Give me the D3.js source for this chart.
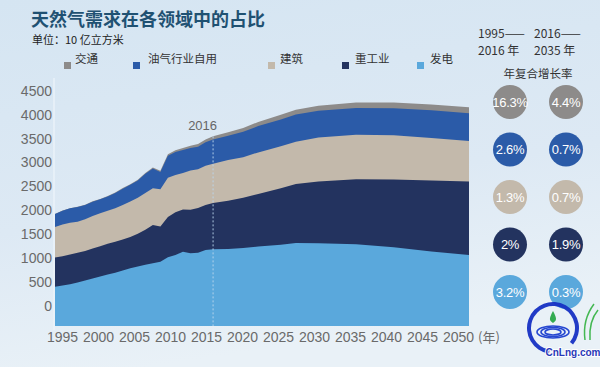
<!DOCTYPE html>
<html><head><meta charset="utf-8">
<script src="https://cdn.jsdelivr.net/npm/d3@7"></script>
<style>
html,body{margin:0;padding:0;background:#e2edf6;}
body{width:600px;height:367px;overflow:hidden;}
svg{display:block;}
text{font-family:"Liberation Sans",Arial,"Noto Sans CJK SC",sans-serif;}
.cjk{font-family:"Noto Sans CJK SC","Liberation Sans",sans-serif;}
</style></head><body>
<svg id="chart" width="600" height="367"></svg>
<script>
// ---------------- data ----------------
const years = [1995,1996,1997,1998,1999,2000,2001,2002,2003,2004,2005,2006,2007,2008,2009,2010,2011,2012,2013,2014,2015,2016,2018,2020,2022,2025,2027,2030,2035,2040,2045,2050];
const power         = [400,425,455,490,530,575,615,655,695,740,786,825,861,891,924,1016,1064,1133,1100,1113,1170,1185,1190,1210,1240,1280,1315,1310,1290,1225,1140,1065];
const heavyIndustry = [610,615,620,620,620,625,635,645,645,650,655,685,730,800,735,845,895,885,910,935,940,965,1010,1050,1100,1180,1235,1290,1360,1420,1480,1535];
const buildings     = [640,660,665,650,660,680,690,690,700,720,740,750,770,770,780,820,780,760,820,810,820,825,850,850,870,880,880,920,930,925,890,850];
const oilGasOwnUse  = [270,290,300,310,300,300,290,300,320,340,350,360,400,410,360,460,480,480,470,470,490,505,510,530,550,560,570,560,560,565,580,580];
const transport     = [3,4,4,5,6,7,8,10,12,13,15,18,20,23,26,32,38,44,50,55,60,65,72,80,87,95,100,105,115,120,123,125];

const stackKeys   = ["发电","重工业","建筑","油气行业自用","交通"];
const legendNames = ["交通","油气行业自用","建筑","重工业","发电"];
const colorList   = ["#5aa8dc","#23335f","#c3b9ab","#2b5ba8","#8d8b8a"]; // same order as stackKeys

const periodLabels = ["1995——|2016 年","2016——|2035 年"];
const growthFirst  = ["16.3%","2.6%","1.3%","2%","3.2%"];   // 1995-2016, legend order
const growthSecond = ["4.4%","0.7%","0.7%","1.9%","0.3%"];  // 2016-2035, legend order

const yTickValues = [0,500,1000,1500,2000,2500,3000,3500,4000,4500];
const xTickValues = [1995,2000,2005,2010,2015,2020,2025,2030,2035,2040,2045,2050];
const markerYear = 2016;

const title = "天然气需求在各领域中的占比";
const unitText = "单位：10 亿立方米";

// ---------------- drawing ----------------
const svg = d3.select("#chart");
const defs = svg.append("defs");
const bg = defs.append("linearGradient").attr("id","bg").attr("x1",0).attr("y1",0).attr("x2",0.25).attr("y2",1);
bg.append("stop").attr("offset","0%").attr("stop-color","#d5e5f2");
bg.append("stop").attr("offset","60%").attr("stop-color","#dde9f4");
bg.append("stop").attr("offset","100%").attr("stop-color","#e9f1f7");
svg.append("rect").attr("width",600).attr("height",367).attr("fill","url(#bg)");

const color = d3.scaleOrdinal().domain(stackKeys).range(colorList);

const table = years.map((yr,i)=>({year:yr,"发电":power[i],"重工业":heavyIndustry[i],"建筑":buildings[i],"油气行业自用":oilGasOwnUse[i],"交通":transport[i]}));
const stacked = d3.stack().keys(stackKeys)(table);

const x = d3.scaleLinear().domain([1995,2050]).range([55,469]);
const xLabel = d3.scaleLinear().domain([1995,2050]).range([62,458]);
const y = d3.scaleLinear().domain([-420,4500]).range([326,90.7]);

// faint y axis guide line
svg.append("line").attr("x1",54).attr("x2",54).attr("y1",78).attr("y2",330)
  .attr("stroke","#eef5fb").attr("stroke-width",1.2);

// areas: each layer drawn from baseline to its cumulative top, top layers first
const area = d3.area().x(d=>x(d.data.year)).y0(y(-420)).y1(d=>y(d[1])).curve(d3.curveLinear);
svg.append("g").selectAll("path").data(stacked.slice().reverse()).join("path")
  .attr("d",area).attr("fill",d=>color(d.key));

// marker line 2016
const mx = x(markerYear);
const topAtMarker = d3.max(stacked, s => s.find(d=>d.data.year===markerYear)[1]);
svg.append("line").attr("x1",mx).attr("x2",mx).attr("y1",y(topAtMarker)).attr("y2",326)
  .attr("stroke","#bcd8ee").attr("stroke-width",1).attr("stroke-dasharray","2,2").attr("opacity",0.9);
svg.append("text").attr("x",mx+4).attr("y",130).attr("text-anchor","end")
  .attr("font-size",13).attr("fill","#666").text(String(markerYear));

// y axis
const yAxis = d3.axisLeft(y).tickValues(yTickValues).tickSize(0).tickPadding(3).tickFormat(d3.format("d"));
const gy = svg.append("g").attr("transform","translate(55,0)").call(yAxis);
gy.select(".domain").remove();
gy.selectAll("text").attr("font-size",14).attr("fill","#6a6a6a").attr("font-family","'Liberation Sans',Arial,sans-serif");

// x axis
const xAxis = d3.axisBottom(xLabel).tickValues(xTickValues).tickSize(0).tickPadding(6).tickFormat(d3.format("d"));
const gx = svg.append("g").attr("transform","translate(0,326)").call(xAxis);
gx.select(".domain").remove();
gx.selectAll("text").attr("font-size",14).attr("fill","#6a6a6a").attr("font-family","'Liberation Sans',Arial,sans-serif");
svg.append("text").attr("class","cjk").attr("x",489).attr("y",342).attr("text-anchor","middle")
  .attr("font-size",13).attr("fill","#6a6a6a").text("(年)");

// title
svg.append("text").attr("class","cjk").attr("x",31).attr("y",26).attr("font-size",18).attr("font-weight","bold")
  .attr("fill","#1f5172").text(title);
svg.append("text").attr("class","cjk").attr("x",32).attr("y",44).attr("font-size",11)
  .attr("fill","#222").text(unitText);

// legend
const legendX = {"交通":[64,75],"油气行业自用":[133,148],"建筑":[268,280],"重工业":[342,355],"发电":[417,430]};
const lg = svg.append("g").selectAll("g").data(legendNames).join("g");
lg.append("rect").attr("x",d=>legendX[d][0]).attr("y",62).attr("width",7).attr("height",7).attr("fill",d=>color(d));
lg.append("text").attr("class","cjk").attr("x",d=>legendX[d][1]).attr("y",63).attr("font-size",11.5)
  .attr("fill","#333").text(d=>d);

// right panel
const colX = d3.scalePoint().domain(periodLabels).range([510,566]);
const rowY = d3.scalePoint().domain(legendNames).range([102,292]);
periodLabels.forEach((p,i)=>{
  const parts = p.split("|");
  const xx = colX(p) - 32;
  svg.append("text").attr("class","cjk").attr("x",xx).attr("y",38).attr("font-size",12).attr("fill","#333").text(parts[0]);
  svg.append("text").attr("class","cjk").attr("x",xx).attr("y",55).attr("font-size",12).attr("fill","#333").text(parts[1]);
});
svg.append("text").attr("class","cjk").attr("x",538).attr("y",78).attr("text-anchor","middle")
  .attr("font-size",11.5).attr("fill","#333").text("年复合增长率");

const cells = [];
legendNames.forEach((k,i)=>{
  cells.push({key:k,period:periodLabels[0],val:growthFirst[i]});
  cells.push({key:k,period:periodLabels[1],val:growthSecond[i]});
});
const cg = svg.append("g").selectAll("g").data(cells).join("g")
  .attr("transform",d=>`translate(${colX(d.period)},${rowY(d.key)})`);
cg.append("circle").attr("r",17).attr("fill",d=>color(d.key));
cg.append("text").attr("text-anchor","middle").attr("dy","0.36em").attr("font-size",13)
  .attr("fill","#fff").attr("letter-spacing","-0.3").text(d=>d.val);

// watermark logo (decorative)
const wm = svg.append("g").attr("opacity",0.95);
wm.append("path").attr("d",d3.arc()({innerRadius:22,outerRadius:26,startAngle:-Math.PI*0.95,endAngle:Math.PI*0.72}))
  .attr("transform","translate(553,328)").attr("fill","#1732c4");
[[16,6],[12,4.5],[8,3]].forEach(([rx,ry])=>{
  wm.append("ellipse").attr("cx",553).attr("cy",332).attr("rx",rx).attr("ry",ry)
    .attr("fill","none").attr("stroke","#1c3fd0").attr("stroke-width",1.6);
});
wm.append("path").attr("d","M553,311 C556,317 558,320 553,323 C548,320 550,317 553,311Z").attr("fill","#2aa84a");
wm.append("path").attr("d","M585,340 C583,325 588,312 594,304 M590,340 C589,326 593,316 598,310").attr("stroke","#3bb54a").attr("stroke-width",1.5).attr("fill","none");
wm.append("text").attr("x",573).attr("y",356).attr("text-anchor","middle").attr("font-size",10).attr("font-weight","bold")
  .attr("fill","#1a2fb5").attr("stroke","#fff").attr("stroke-width",2).attr("paint-order","stroke").text("CnLng.com");
</script>
</body></html>
